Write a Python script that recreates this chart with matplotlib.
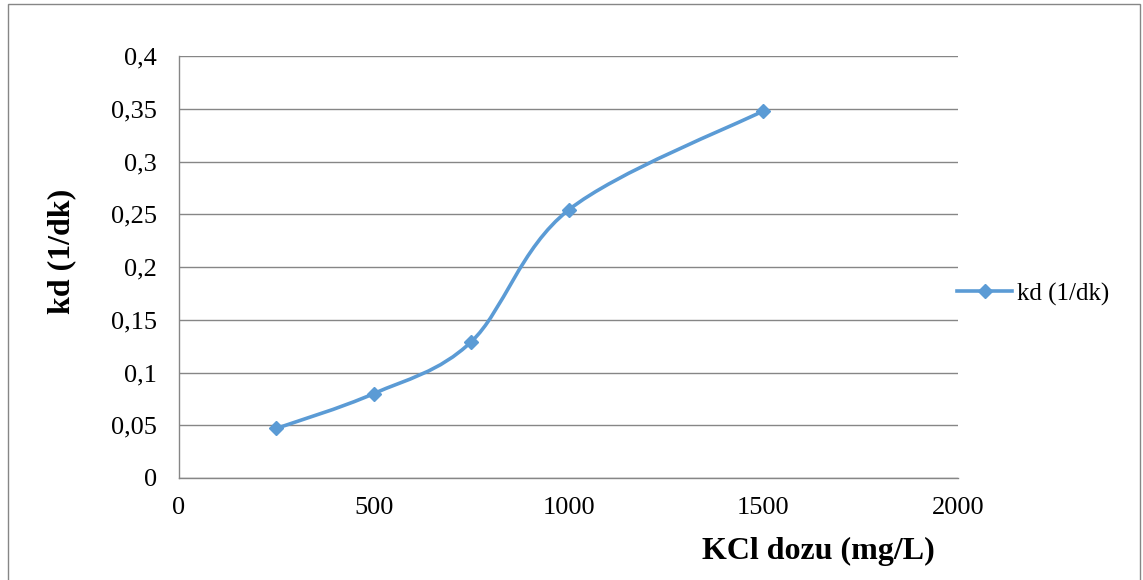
import numpy as np
import matplotlib
matplotlib.use("Agg")
import matplotlib.pyplot as plt
from matplotlib.path import Path
from matplotlib.patches import PathPatch, Rectangle
from matplotlib.lines import Line2D

plt.rcParams['font.family'] = ['Liberation Serif', 'DejaVu Serif']

kcl_dose = [250, 500, 750, 1000, 1500]
kd_values = [0.047, 0.080, 0.129, 0.254, 0.348]
x_ticks = [0, 500, 1000, 1500, 2000]
y_ticks = [0, 0.05, 0.1, 0.15, 0.2, 0.25, 0.3, 0.35, 0.4]
series_name = "kd (1/dk)"
color = "#5B9BD5"

fig = plt.figure(figsize=(11.43, 5.80), dpi=100)
ax = fig.add_axes([179/1143, 1 - 478/580, (958-179)/1143, (478-56)/580])
ax.set_xlim(0, 2000)
ax.set_ylim(0, 0.4)

# Excel-style smoothed line via cubic Bezier (Catmull-Rom control points)
pts = np.column_stack([kcl_dose, kd_values]).astype(float)
n = len(pts)
verts = [tuple(pts[0])]
codes = [Path.MOVETO]
for i in range(n - 1):
    p0 = pts[i - 1] if i > 0 else pts[i]
    p1 = pts[i]
    p2 = pts[i + 1]
    p3 = pts[i + 2] if i + 2 < n else pts[i + 1]
    c1 = p1 + (p2 - p0) / 6.0
    c2 = p2 - (p3 - p1) / 6.0
    verts += [tuple(c1), tuple(c2), tuple(p2)]
    codes += [Path.CURVE4] * 3
ax.add_patch(PathPatch(Path(verts, codes), facecolor='none', edgecolor=color, lw=2.6,
                       capstyle='round', joinstyle='round', zorder=3))
ax.plot(kcl_dose, kd_values, linestyle='none', marker='D', ms=7, color=color, zorder=4)

ax.set_xticks(x_ticks)
ax.set_xticklabels([str(v) for v in x_ticks])
ax.set_yticks(y_ticks)
ax.set_yticklabels([("%g" % v).replace('.', ',') for v in y_ticks])
ax.tick_params(length=0, labelsize=19)
ax.tick_params(axis='x', pad=14)
ax.tick_params(axis='y', pad=16)
ax.grid(axis='y', color='#868686', lw=1)
ax.set_axisbelow(True)
for s in ['top', 'right']:
    ax.spines[s].set_visible(False)
for s in ['left', 'bottom']:
    ax.spines[s].set_color('#868686')
    ax.spines[s].set_linewidth(1)

fig.text(702/1143, 1 - 551/580, "KCl dozu (mg/L)", fontsize=23, fontweight='bold', va='center', ha='left')
fig.text(62/1143, 1 - 251/580, "kd (1/dk)", fontsize=23, fontweight='bold', rotation=90, va='center', ha='center')

handle = Line2D([], [], color=color, lw=2.6, marker='D', ms=7)
fig.legend([handle], [series_name], loc='center left', bbox_to_anchor=(957/1143, 1 - 294/580),
           frameon=False, fontsize=18, handlelength=2.2, handletextpad=0.2,
           borderpad=0, borderaxespad=0)

fig.patches.append(Rectangle((8/1143, -0.01), (1140-8)/1143, 1 - 4/580 + 0.01, transform=fig.transFigure,
                             fill=False, edgecolor='#868686', lw=1))

fig.savefig("out.png", dpi=100)
